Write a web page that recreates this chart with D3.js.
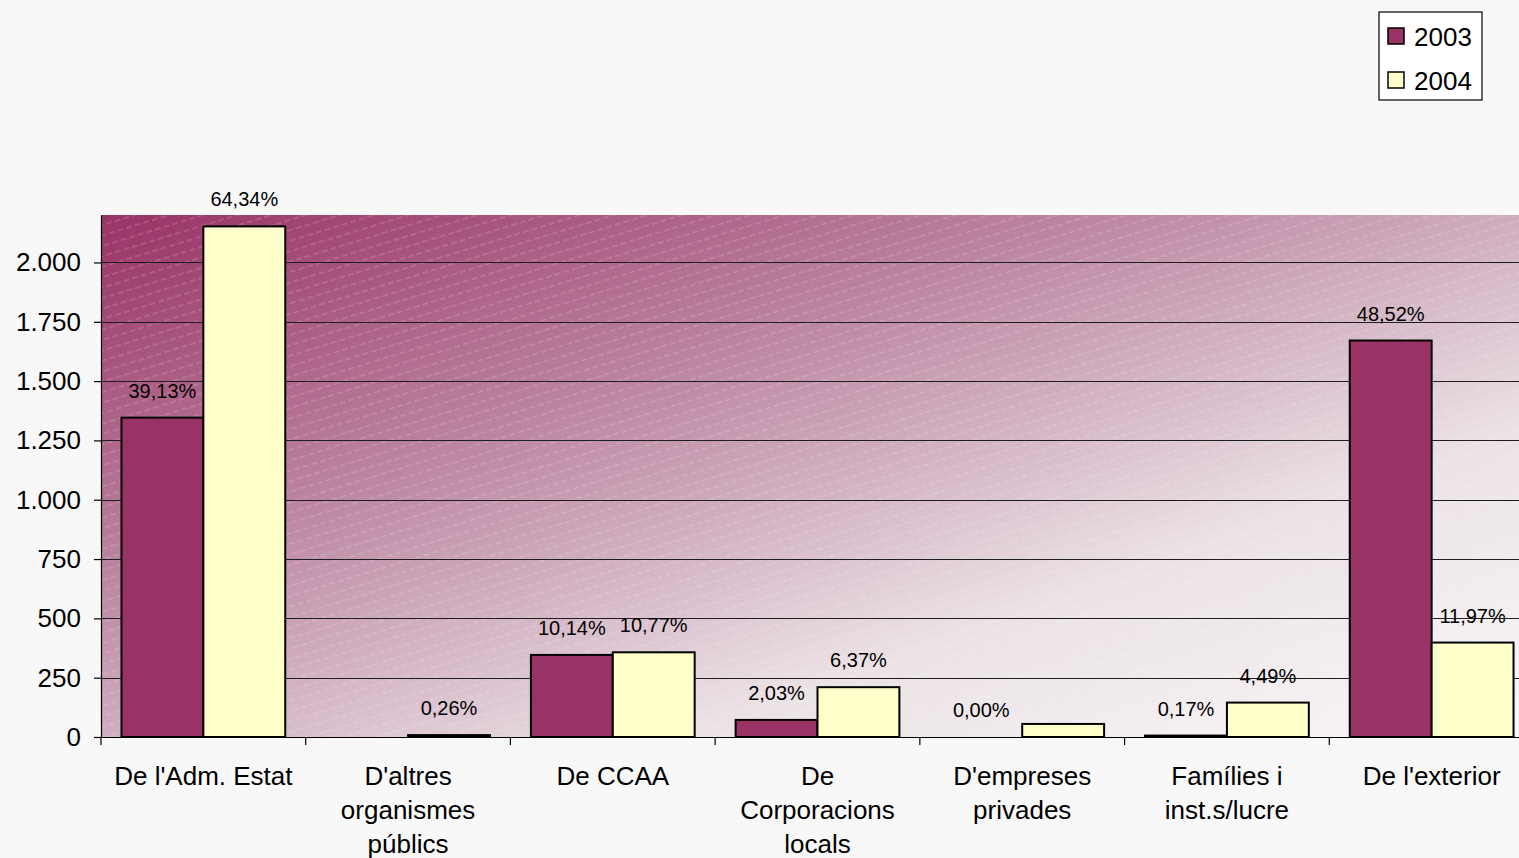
<!DOCTYPE html>
<html><head><meta charset="utf-8">
<script src="https://cdn.jsdelivr.net/npm/d3@7"></script>
<style>
html,body{margin:0;padding:0;background:#f8f8f8;}
svg{display:block;font-family:"Liberation Sans",Arial,sans-serif;}
</style></head>
<body><svg id="chart" width="1519" height="858"></svg>
<script>
const categories = [
  ["De l'Adm. Estat"],
  ["D'altres","organismes","públics"],
  ["De CCAA"],
  ["De","Corporacions","locals"],
  ["D'empreses","privades"],
  ["Famílies i","inst.s/lucre"],
  ["De l'exterior"]
];
const seriesNames = ["2003","2004"];
const values2003 = [1346, 0, 346, 72, 0, 6, 1671];
const values2004 = [2152, 8, 357, 210, 55, 145, 398];
const labels2003 = ["39,13%", null, "10,14%", "2,03%", "0,00%", "0,17%", "48,52%"];
const labels2004 = ["64,34%", "0,26%", "10,77%", "6,37%", null, "4,49%", "11,97%"];
const yTicks = [0,250,500,750,1000,1250,1500,1750,2000];
const yMax = 2200;
const colors = ["#993366","#ffffcc"];

const svg = d3.select("#chart");
const m = {left:101, top:215, right:1534, bottom:737};

const defs = svg.append("defs");
const grad = defs.append("linearGradient").attr("id","bg").attr("x1",0).attr("y1",0).attr("x2",1).attr("y2",1);
[[0,"#993366"],[0.35,"#bc86a1"],[0.7,"#ebe2e6"],[1,"#f9f7f8"]].forEach(([o,c])=>grad.append("stop").attr("offset",o).attr("stop-color",c));
const pat = defs.append("pattern").attr("id","hatch").attr("patternUnits","userSpaceOnUse")
  .attr("width",9).attr("height",10).attr("patternTransform","rotate(-17)");
pat.append("line").attr("x1",0).attr("x2",9).attr("y1",5).attr("y2",5)
  .attr("stroke","#ffffff").attr("stroke-opacity",0.25).attr("stroke-width",1.1).attr("stroke-dasharray","6,3");

const idx = categories.map((d,i)=>i);
const x = d3.scaleBand().domain(idx).range([m.left, m.right]).padding(0);
const xs = d3.scaleBand().domain([0,1]).range([0.1*x.bandwidth(), 0.9*x.bandwidth()]).padding(0);
const y = d3.scaleLinear().domain([0,yMax]).range([m.bottom, m.top]);

svg.append("rect").attr("x",m.left).attr("y",m.top).attr("width",m.right-m.left).attr("height",m.bottom-m.top).attr("fill","url(#bg)");
svg.append("rect").attr("x",m.left).attr("y",m.top).attr("width",m.right-m.left).attr("height",m.bottom-m.top).attr("fill","url(#hatch)");

// gridlines
svg.append("g").selectAll("line").data(yTicks.filter(t=>t>0)).join("line")
  .attr("x1",m.left).attr("x2",m.right).attr("y1",d=>Math.round(y(d))+0.5).attr("y2",d=>Math.round(y(d))+0.5)
  .attr("stroke","#1e1e1e").attr("stroke-width",1);

const loc = d3.formatLocale({decimal:",",thousands:".",grouping:[3],currency:["","€"]});
const fmt = loc.format(",d");

// y axis
const yAxis = d3.axisLeft(y).tickValues(yTicks).tickFormat(fmt).tickSize(7).tickSizeOuter(0).tickPadding(13);
const gy = svg.append("g").attr("transform",`translate(${m.left},0)`).call(yAxis);
gy.select(".domain").attr("stroke","#000").attr("stroke-width",1.2);
gy.selectAll(".tick line").attr("stroke","#000").attr("stroke-width",1.2);
gy.selectAll("text").attr("font-size",26).attr("fill","#000").attr("font-family","Liberation Sans, Arial, sans-serif");

// bars
const series = [values2003, values2004];
const labs = [labels2003, labels2004];
const gb = svg.append("g");
series.forEach((vals,s)=>{
  gb.selectAll(null).data(vals.map((v,i)=>({v,i}))).join("rect")
    .filter(d=>d.v>0)
    .attr("x",d=>x(d.i)+xs(s)).attr("width",xs.bandwidth())
    .attr("y",d=>y(d.v)).attr("height",d=>y(0)-y(d.v))
    .attr("fill",colors[s]).attr("stroke","#000").attr("stroke-width",2);
});

// x axis
const xAxisLine = svg.append("g");
xAxisLine.append("line").attr("x1",m.left).attr("x2",m.right).attr("y1",m.bottom+0.5).attr("y2",m.bottom+0.5).attr("stroke","#000").attr("stroke-width",1.2);
xAxisLine.selectAll(".xt").data(idx.concat([categories.length])).join("line").attr("class","xt")
  .attr("x1",d=>d<categories.length?x(d):m.right).attr("x2",d=>d<categories.length?x(d):m.right)
  .attr("y1",m.bottom).attr("y2",m.bottom+8).attr("stroke","#000").attr("stroke-width",1.2);

// category labels
const gc = svg.append("g");
categories.forEach((lines,i)=>{
  const t = gc.append("text").attr("x",x(i)+x.bandwidth()/2).attr("y",785)
    .attr("text-anchor","middle").attr("font-size",26).attr("fill","#000");
  lines.forEach((ln,k)=>t.append("tspan").attr("x",x(i)+x.bandwidth()/2).attr("dy",k===0?0:34).text(ln));
});

// data labels
series.forEach((vals,s)=>{
  svg.append("g").selectAll("text").data(vals.map((v,i)=>({v,i,l:labs[s][i]})).filter(d=>d.l)).join("text")
    .attr("x",d=>x(d.i)+xs(s)+xs.bandwidth()/2).attr("y",d=>y(d.v)-20)
    .attr("text-anchor","middle").attr("font-size",20).attr("fill","#000").text(d=>d.l);
});

// legend
const lg = svg.append("g");
lg.append("rect").attr("x",1379).attr("y",12).attr("width",103).attr("height",88).attr("fill","#fff").attr("stroke","#000").attr("stroke-width",1.2);
seriesNames.forEach((n,i)=>{
  lg.append("rect").attr("x",1388).attr("y",28+i*44).attr("width",16).attr("height",16).attr("fill",colors[i]).attr("stroke","#000").attr("stroke-width",1.5);
  lg.append("text").attr("x",1414).attr("y",46+i*44).attr("font-size",26).attr("fill","#000").text(n);
});
</script></body></html>
